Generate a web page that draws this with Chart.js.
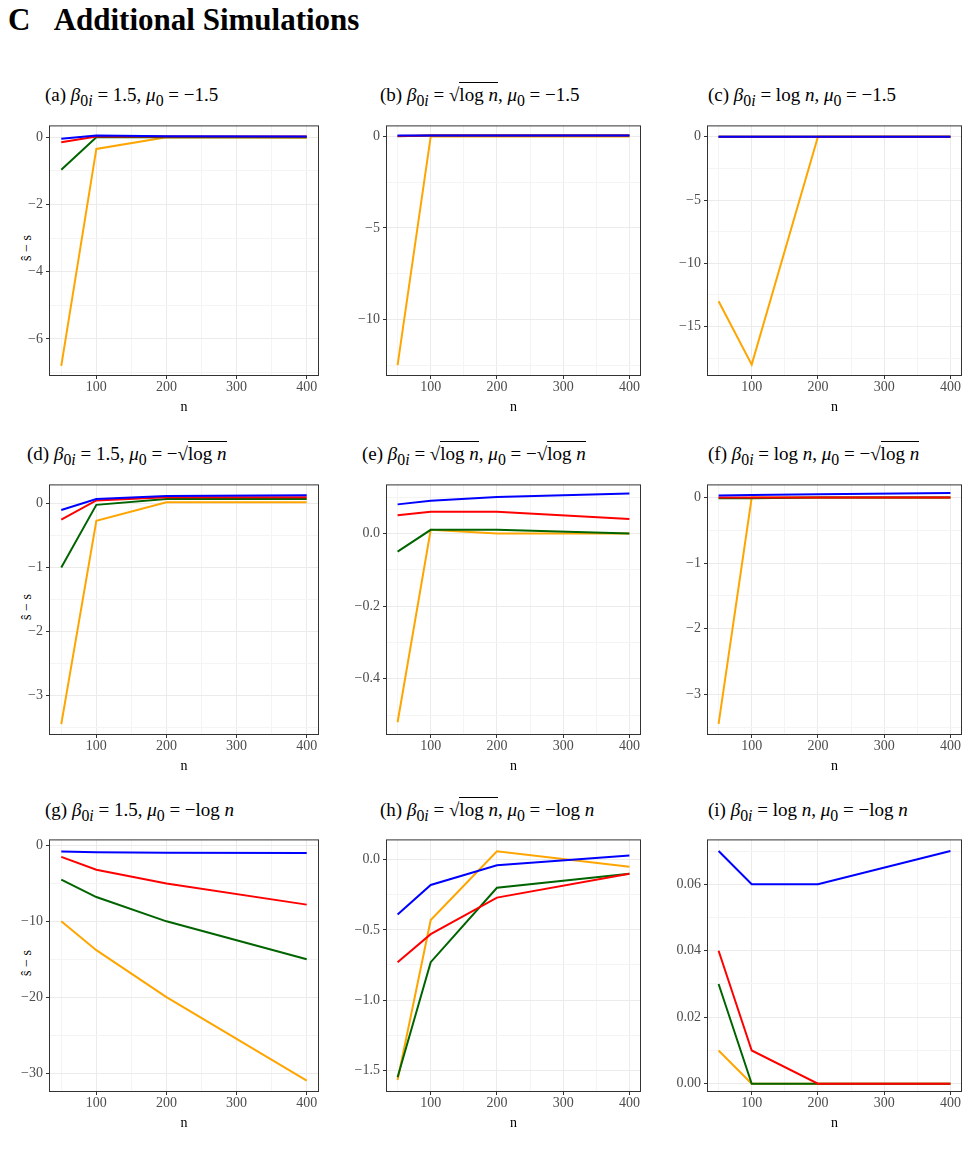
<!DOCTYPE html>
<html>
<head>
<meta charset="UTF-8">
<title>Additional Simulations</title>
<script src="https://cdn.jsdelivr.net/npm/chart.js"></script>
<style>
  body { margin: 0; background: #fff; font-family: "Liberation Serif", "DejaVu Serif", serif; }
  .page { position: relative; width: 969px; height: 1149px; overflow: hidden; }
  h1 { position: absolute; left: 8px; top: 2px; margin: 0; font-size: 31px; font-weight: bold; }
  .ptitle { position: absolute; font-size: 19px; white-space: nowrap; }
  .sq { border-top: 1px solid #000; padding-top: 1px; }
  canvas { position: absolute; }
  .ylab { position: absolute; font-size: 14px; transform: rotate(-90deg); transform-origin: center; }
</style>
</head>
<body>
<div class="page" id="page">
  <h1>C&nbsp;&nbsp;&nbsp;Additional Simulations</h1>
</div>
<script>
const nValues = [50, 100, 200, 400];
const seriesColors = ['#0000ff', '#ff0000', '#006400', '#ffa500'];

// (a) .. (i): blue, red, green, orange
const blueA = [-0.05, 0.05, 0.03, 0.02], redA = [-0.15, 0.02, 0.02, 0.02], greenA = [-0.97, 0, 0, 0], orangeA = [-6.8, -0.35, 0, -0.02];
const blueB = [0.05, 0.05, 0.05, 0.05], redB = [0.02, 0.05, 0.05, 0.05], greenB = [0, 0.05, 0.05, 0.05], orangeB = [-12.5, 0, 0, 0];
const blueC = [0, 0, 0, 0], redC = [0, 0, 0, 0], greenC = [0, 0, 0, 0], orangeC = [-13, -18, 0, 0];
const blueD = [-0.1, 0.07, 0.12, 0.13], redD = [-0.25, 0.05, 0.1, 0.1], greenD = [-1, -0.02, 0.07, 0.07], orangeD = [-3.45, -0.27, 0.02, 0.02];
const blueE = [0.08, 0.09, 0.1, 0.11], redE = [0.05, 0.06, 0.06, 0.04], greenE = [-0.05, 0.01, 0.01, 0], orangeE = [-0.52, 0.01, 0, 0];
const blueF = [0.03, 0.04, 0.05, 0.07], redF = [0, 0, 0, 0], greenF = [-0.01, -0.01, 0, 0], orangeF = [-3.45, 0, 0, 0];
const blueG = [-0.8, -0.9, -0.95, -1.0], redG = [-1.5, -3.2, -5, -7.8], greenG = [-4.5, -6.8, -10, -15], orangeG = [-10, -13.8, -20, -31];
const blueH = [-0.39, -0.18, -0.04, 0.03], redH = [-0.73, -0.53, -0.27, -0.1], greenH = [-1.55, -0.73, -0.2, -0.1], orangeH = [-1.57, -0.43, 0.06, -0.05];
const blueI = [0.07, 0.06, 0.06, 0.07], redI = [0.04, 0.01, 0, 0], greenI = [0.03, 0, 0, 0], orangeI = [0.01, 0, 0, 0];

const xTicks = [50, 100, 150, 200, 250, 300, 350, 400];
const xMajor = [100, 200, 300, 400];

const panels = [
  { t: '(a) <i>β</i><sub>0<i>i</i></sub> = 1.5, <i>μ</i><sub>0</sub> = −1.5', d: [blueA, redA, greenA, orangeA], min: -7.1, max: 0.35, major: [0, -2, -4, -6], minor: [-1, -3, -5, -7], dec: 0 },
  { t: '(b) <i>β</i><sub>0<i>i</i></sub> = √<span class="sq">log <i>n</i></span>, <i>μ</i><sub>0</sub> = −1.5', d: [blueB, redB, greenB, orangeB], min: -13.1, max: 0.6, major: [0, -5, -10], minor: [-2.5, -7.5, -12.5], dec: 0 },
  { t: '(c) <i>β</i><sub>0<i>i</i></sub> = log <i>n</i>, <i>μ</i><sub>0</sub> = −1.5', d: [blueC, redC, greenC, orangeC], min: -18.9, max: 0.9, major: [0, -5, -10, -15], minor: [-2.5, -7.5, -12.5, -17.5], dec: 0 },
  { t: '(d) <i>β</i><sub>0<i>i</i></sub> = 1.5, <i>μ</i><sub>0</sub> = −√<span class="sq">log <i>n</i></span>', d: [blueD, redD, greenD, orangeD], min: -3.62, max: 0.3, major: [0, -1, -2, -3], minor: [-0.5, -1.5, -2.5, -3.5], dec: 0 },
  { t: '(e) <i>β</i><sub>0<i>i</i></sub> = √<span class="sq">log <i>n</i></span>, <i>μ</i><sub>0</sub> = −√<span class="sq">log <i>n</i></span>', d: [blueE, redE, greenE, orangeE], min: -0.555, max: 0.135, major: [0, -0.2, -0.4], minor: [0.1, -0.1, -0.3, -0.5], dec: 1 },
  { t: '(f) <i>β</i><sub>0<i>i</i></sub> = log <i>n</i>, <i>μ</i><sub>0</sub> = −√<span class="sq">log <i>n</i></span>', d: [blueF, redF, greenF, orangeF], min: -3.62, max: 0.2, major: [0, -1, -2, -3], minor: [-0.5, -1.5, -2.5, -3.5], dec: 0 },
  { t: '(g) <i>β</i><sub>0<i>i</i></sub> = 1.5, <i>μ</i><sub>0</sub> = −log <i>n</i>', d: [blueG, redG, greenG, orangeG], min: -32.5, max: 0.8, major: [0, -10, -20, -30], minor: [-5, -15, -25], dec: 0 },
  { t: '(h) <i>β</i><sub>0<i>i</i></sub> = √<span class="sq">log <i>n</i></span>, <i>μ</i><sub>0</sub> = −log <i>n</i>', d: [blueH, redH, greenH, orangeH], min: -1.655, max: 0.145, major: [0, -0.5, -1, -1.5], minor: [-0.25, -0.75, -1.25], dec: 1 },
  { t: '(i) <i>β</i><sub>0<i>i</i></sub> = log <i>n</i>, <i>μ</i><sub>0</sub> = −log <i>n</i>', d: [blueI, redI, greenI, orangeI], min: -0.0025, max: 0.0735, major: [0, 0.02, 0.04, 0.06], minor: [0.01, 0.03, 0.05, 0.07], dec: 2 }
];

const colL = [49, 386, 707], colR = [319, 641, 962];
const rowT = [124, 483, 838], rowB = [376, 735, 1092];
const titleX = [45, 380, 708], titleY = [84, 443, 799];

const boxPlugin = {
  id: 'box',
  afterDraw(chart) {
    const a = chart.chartArea, ctx = chart.ctx;
    ctx.save();
    ctx.strokeStyle = '#333';
    ctx.lineWidth = 1;
    ctx.strokeRect(a.left + 0.5, a.top + 0.5, a.right - a.left - 1, a.bottom - a.top - 1);
    ctx.restore();
  }
};

const page = document.getElementById('page');
panels.forEach((p, i) => {
  const r = Math.floor(i / 3), c = i % 3;
  const t = document.createElement('div');
  t.className = 'ptitle';
  t.style.left = (titleX[c] - (i === 3 || i === 4 ? 18 : 0)) + 'px';
  t.style.top = titleY[r] + 'px';
  t.innerHTML = p.t;
  page.appendChild(t);

  if (c === 0) {
    const y = document.createElement('div');
    y.className = 'ylab';
    y.innerHTML = 'ŝ − s';
    y.style.left = '14px';
    y.style.top = ((rowT[r] + rowB[r]) / 2 - 10) + 'px';
    page.appendChild(y);
  }

  const padL = 47, w = colR[c] - colL[c];
  const cv = document.createElement('canvas');
  cv.style.left = (colL[c] - padL) + 'px';
  cv.style.top = (rowT[r] - 10) + 'px';
  cv.style.width = (w + padL + 12) + 'px';
  cv.style.height = (rowB[r] - rowT[r] + 50) + 'px';
  cv.width = w + padL + 12; cv.height = rowB[r] - rowT[r] + 50;
  page.appendChild(cv);

  const yAll = p.major.concat(p.minor).filter(v => v >= p.min && v <= p.max).sort((a, b) => a - b);
  const isMajor = v => p.major.some(m => Math.abs(m - v) < 1e-9);

  new Chart(cv, {
    type: 'scatter',
    data: {
      datasets: p.d.map((vals, k) => ({
        data: nValues.map((n, j) => ({ x: n, y: vals[j] })),
        showLine: true, borderColor: seriesColors[k], borderWidth: 2,
        pointRadius: 0, tension: 0
      }))
    },
    plugins: [boxPlugin],
    options: {
      responsive: false, animation: false,
      layout: { padding: { top: 10, right: 12, left: 0, bottom: 0 } },
      plugins: { legend: { display: false }, tooltip: { enabled: false } },
      scales: {
        x: {
          type: 'linear', min: 32.5, max: 417.5,
          afterBuildTicks: s => { s.ticks = xTicks.map(v => ({ value: v })); },
          afterFit: s => { s.height = 40; },
          border: { display: false },
          grid: { color: ctx => xMajor.includes(ctx.tick && ctx.tick.value) ? '#ebebeb' : '#f4f4f4', tickLength: 3, tickColor: ctx => xMajor.includes(ctx.tick && ctx.tick.value) ? '#333' : 'rgba(0,0,0,0)' },
          ticks: { color: '#4d4d4d', font: { family: 'Liberation Serif', size: 14 }, padding: 0, maxRotation: 0, autoSkip: false,
            callback: v => xMajor.includes(v) ? String(v) : '' },
          title: { display: true, text: 'n', color: '#000', font: { family: 'Liberation Serif', size: 14 }, padding: 0 }
        },
        y: {
          min: p.min, max: p.max,
          afterBuildTicks: s => { s.ticks = yAll.map(v => ({ value: v })); },
          afterFit: s => { s.width = padL; },
          border: { display: false },
          grid: { color: ctx => isMajor(ctx.tick && ctx.tick.value) ? '#ebebeb' : '#f4f4f4', tickLength: 3, tickColor: ctx => isMajor(ctx.tick && ctx.tick.value) ? '#333' : 'rgba(0,0,0,0)' },
          ticks: { color: '#4d4d4d', font: { family: 'Liberation Serif', size: 14 }, padding: 3, autoSkip: false,
            callback: v => isMajor(v) ? (v < 0 ? '−' : '') + Math.abs(v).toFixed(p.dec) : '' }
        }
      }
    }
  });
});
</script>
</body>
</html>
